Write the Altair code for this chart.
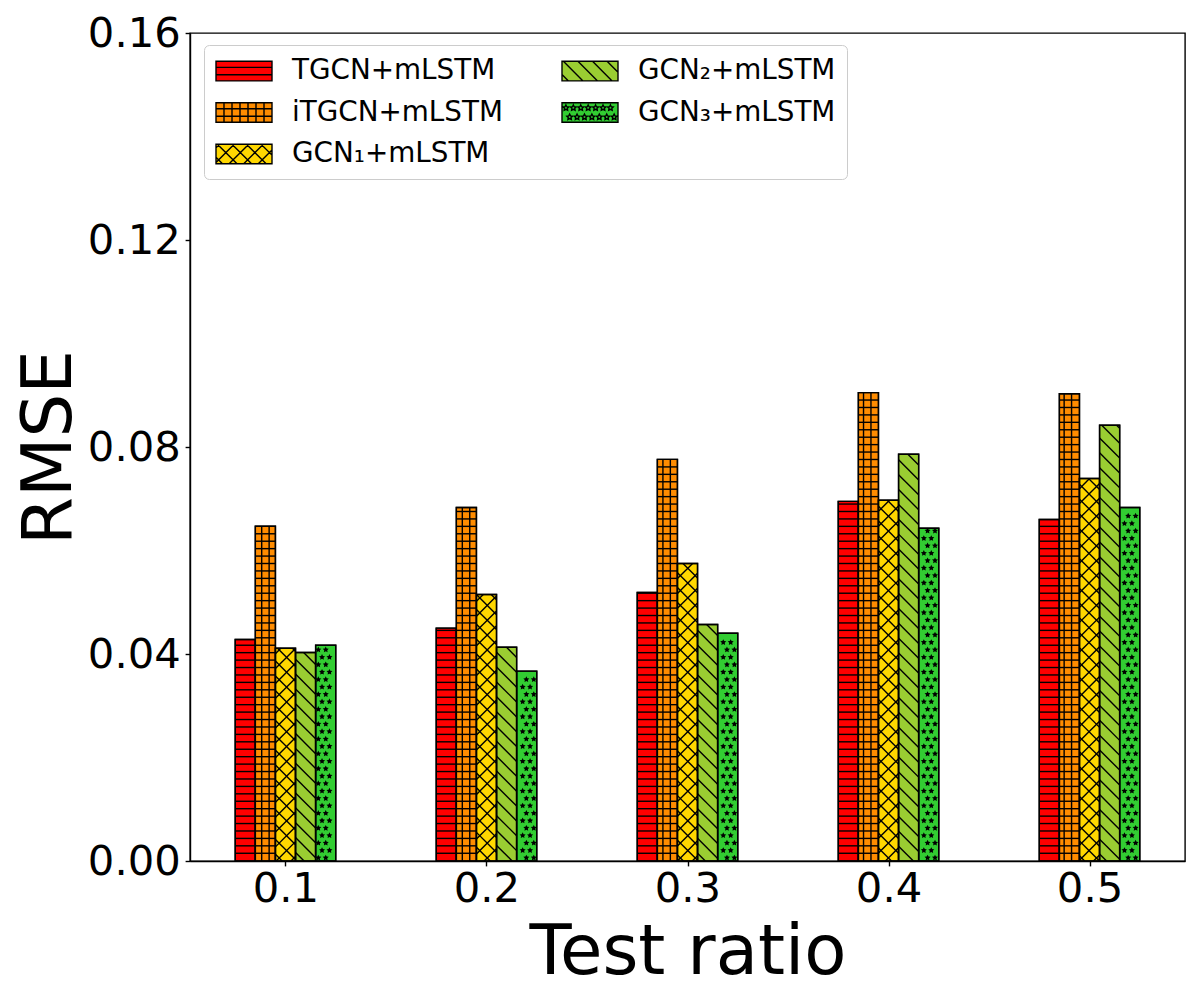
import math
import altair as alt
import pandas as pd

# ---------------- data ----------------
ratios = [0.1, 0.2, 0.3, 0.4, 0.5]
series = ["TGCN+mLSTM", "iTGCN+mLSTM", "GCN₁+mLSTM", "GCN₂+mLSTM", "GCN₃+mLSTM"]
colors = ["#ff0000", "#ff8c00", "#ffd700", "#9acd32", "#32cd32"]
hatches = ["--", "++", "x", "\\", "**"]
rmse_tgcn = [0.0428, 0.0450, 0.0519, 0.0695, 0.0660]
rmse_itgcn = [0.0647, 0.0683, 0.0776, 0.0905, 0.0903]
rmse_gcn1 = [0.0411, 0.0515, 0.0575, 0.0697, 0.0739]
rmse_gcn2 = [0.0403, 0.0413, 0.0457, 0.0786, 0.0842]
rmse_gcn3 = [0.0417, 0.0367, 0.0440, 0.0643, 0.0683]
values = [rmse_tgcn, rmse_itgcn, rmse_gcn1, rmse_gcn2, rmse_gcn3]
y_ticks = [0.0, 0.04, 0.08, 0.12, 0.16]

# ---------------- layout / style constants ----------------
W, H = 995, 828
X_DOM = [0.0525, 0.5475]
Y_DOM = [0.0, 0.16]
BAR = 0.01
SX = W / (X_DOM[1] - X_DOM[0])
SY = H / Y_DOM[1]
DENSE = 7.43
SPARSE = 14.86
LW = 1.4
FONT = "DejaVu Sans"


def px_x(x):
    return (x - X_DOM[0]) * SX


def dx(p):
    return p / SX + X_DOM[0]


def dy(p):
    return p / SY


bars, segs, stars = [], [], []


def add_seg(name, xa, ya, xb, yb):
    segs.append(dict(series=name, xa=dx(xa), ya=dy(ya), xb=dx(xb), yb=dy(yb)))


for j, name in enumerate(series):
    for k, r in enumerate(ratios):
        v = values[j][k]
        x0 = r + (j - 2.5) * BAR
        x1 = x0 + BAR
        bars.append(dict(series=name, x0=x0, x1=x1, value=v, base=0.0))
        X0, X1, Ht = px_x(x0), px_x(x1), v * SY
        h = hatches[j]
        if h in ("--", "++"):
            Y = 0.3 + DENSE
            while Y < Ht - 0.7:
                add_seg(name, X0, Y, X1, Y)
                Y += DENSE
        if h == "++":
            n = math.ceil((X0 - 4.83) / DENSE)
            X = 4.83 + n * DENSE
            while X < X1 - 0.7:
                if X > X0 + 0.7:
                    add_seg(name, X, 0, X, Ht)
                X += DENSE
        if h in ("x", "\\"):
            ph = 10.1 if h == "\\" else 3.0
            n = math.floor((X0 - ph) / SPARSE)
            c = ph + n * SPARSE
            while c < X1 + Ht:
                lo, hi = max(X0, c - Ht), min(X1, c)
                if hi - lo > 0.3:
                    add_seg(name, lo, c - lo, hi, c - hi)
                c += SPARSE
        if h == "x":
            ph = 3.0
            n = math.floor((-X1 - ph) / SPARSE)
            c = ph + n * SPARSE
            while c < Ht - X0:
                lo, hi = max(X0, -c), min(X1, Ht - c)
                if hi - lo > 0.3:
                    add_seg(name, lo, lo + c, hi, hi + c)
                c += SPARSE
        if h == "**":
            row = 0
            Y = 3.2
            while Y <= Ht - 2.6:
                off = 2.0 + (DENSE / 2 if row % 2 else 0.0)
                m = math.ceil((X0 - off) / DENSE)
                X = off + m * DENSE
                while X <= X1 - 2.6:
                    if X >= X0 + 2.6:
                        stars.append(dict(series=name, sx=dx(X), sy=dy(Y)))
                    X += DENSE
                Y += DENSE
                row += 1

bars_df = pd.DataFrame(bars)
segs_df = pd.DataFrame(segs)
stars_df = pd.DataFrame(stars)
# one row per series, below the visible y range and clipped: it only feeds the legend shapes
legend_df = pd.DataFrame({"series": series, "x0": [0.3] * 5, "value": [-0.05] * 5})


# ---------------- star and legend symbol paths ----------------
def star_path(cx, cy, r, inner=0.5):
    pts = []
    for i in range(10):
        a = math.radians(-90 + 36 * i)
        rr = r if i % 2 == 0 else r * inner
        pts.append((cx + rr * math.cos(a), cy + rr * math.sin(a)))
    return "M" + "L".join(f"{x:.3f},{y:.3f}" for x, y in pts) + "Z"


STAR = star_path(0, 0, 1)
HX, HY = 2.0, 0.7          # legend patch half sizes in symbol units (14 px per unit)
RECT = f"M{-HX},{-HY}L{HX},{-HY}L{HX},{HY}L{-HX},{HY}Z"


def line(xa, ya, xb, yb):
    return f"M{xa:.3f},{ya:.3f}L{xb:.3f},{yb:.3f}"


def legend_path(h):
    p = RECT
    u = DENSE / 14.0
    if h in ("--", "++"):
        for y in (-u / 2, u / 2):
            p += line(-HX, y, HX, y)
    if h == "++":
        for i in range(1, 7):
            x = -HX + 2 * HX * i / 7
            p += line(x, -HY, x, HY)
    if h in ("x", "\\"):
        s = 1.04
        c = -4.0
        while c < 4.0:
            lo, hi = max(-HX, -HY - c), min(HX, HY - c)
            if hi - lo > 0.04:
                p += line(lo, lo + c, hi, hi + c)
            c += s
    if h == "x":
        s = 1.04
        c = -4.0 + 0.52
        while c < 4.0:
            lo, hi = max(-HX, c - HY), min(HX, c + HY)
            if hi - lo > 0.04:
                p += line(lo, c - lo, hi, c - hi)
            c += s
    if h == "**":
        for ri, y in enumerate((-0.33, 0.33)):
            x = -1.72 + (0.265 if ri else 0.0)
            while x < 1.8:
                p += star_path(x, y, 0.21)
                x += 0.53
    return p


legend_shapes = [legend_path(h) for h in hatches]

# ---------------- encodings ----------------
x_axis = alt.Axis(
    values=ratios, format=".1f", title="Test ratio", grid=False,
    labelFontSize=41.7, titleFontSize=69, titleFontWeight="normal",
    labelFont=FONT, titleFont=FONT, labelColor="black", titleColor="black",
    tickColor="black", domainColor="black", tickSize=4.9, tickWidth=LW,
    domainWidth=LW, labelPadding=2.5, titlePadding=8, labelFlush=False,
    labelOverlap=False,
)
y_axis = alt.Axis(
    values=y_ticks, format=".2f", title="RMSE", grid=False,
    labelFontSize=41.7, titleFontSize=69, titleFontWeight="normal",
    labelFont=FONT, titleFont=FONT, labelColor="black", titleColor="black",
    tickColor="black", domainColor="black", tickSize=4.9, tickWidth=LW,
    domainWidth=LW, labelPadding=4.9, titlePadding=3, labelFlush=False,
    labelOverlap=False,
)


def xe(f):
    return alt.X(f"{f}:Q", scale=alt.Scale(domain=X_DOM, nice=False, zero=False), axis=x_axis)


def ye(f):
    return alt.Y(f"{f}:Q", scale=alt.Scale(domain=Y_DOM, nice=False), axis=y_axis)


legend = alt.Legend(
    title=None, orient="none", legendX=14, legendY=12, columns=2,
    symbolType=RECT, symbolSize=784, symbolOffset=14,
    symbolStrokeColor="black", symbolStrokeWidth=LW,
    symbolOpacity=1, labelFont=FONT, labelFontSize=27.8, labelColor="black",
    labelOffset=33, labelLimit=500, columnPadding=56, rowPadding=12.5,
    padding=11, fillColor="rgba(255,255,255,0.8)", strokeColor="#cccccc",
    cornerRadius=5,
)

bar_layer = alt.Chart(bars_df).mark_bar(stroke="black", strokeWidth=LW).encode(
    x=xe("x0"), x2="x1:Q", y=ye("value"), y2="base:Q",
    color=alt.Color("series:N", scale=alt.Scale(domain=series, range=colors), legend=legend),
)
hatch_layer = alt.Chart(segs_df).mark_rule(color="black", strokeWidth=LW).encode(
    x=xe("xa"), x2="xb:Q", y=ye("ya"), y2="yb:Q"
)
star_layer = alt.Chart(stars_df).mark_point(
    shape=STAR, filled=True, color="black", size=40, opacity=1, strokeWidth=0
).encode(x=xe("sx"), y=ye("sy"))
outline_layer = alt.Chart(bars_df).mark_bar(
    fillOpacity=0, stroke="black", strokeWidth=LW
).encode(x=xe("x0"), x2="x1:Q", y=ye("value"), y2="base:Q")
shape_layer = alt.Chart(legend_df).mark_point(
    stroke="black", strokeWidth=LW, clip=True
).encode(
    x=xe("x0"), y=ye("value"),
    shape=alt.Shape("series:N", scale=alt.Scale(domain=series, range=legend_shapes), legend=legend),
)

chart = alt.layer(bar_layer, hatch_layer, star_layer, outline_layer, shape_layer).properties(
    width=W, height=H,
    padding={"left": 182, "top": 25, "right": 7, "bottom": 131},
    autosize=alt.AutoSizeParams(type="none"),
).configure(font=FONT).configure_view(stroke="black", strokeWidth=LW)

chart.save("out.html", embed_options={"renderer": "svg", "actions": False})
